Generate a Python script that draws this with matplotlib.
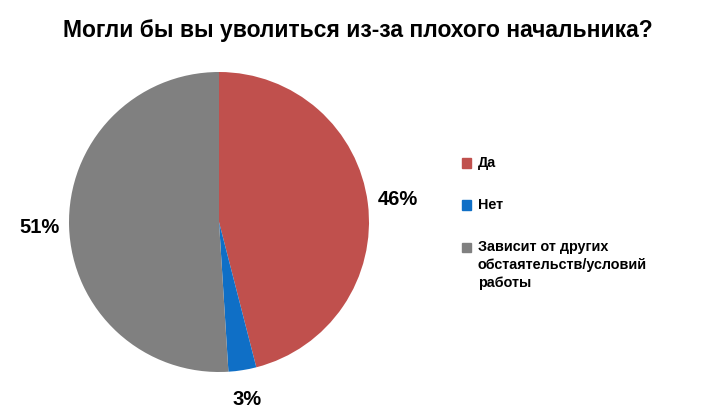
import matplotlib
matplotlib.use('Agg')
import matplotlib.pyplot as plt
from matplotlib.patches import Rectangle

plt.rcParams['font.family'] = ['Liberation Sans', 'DejaVu Sans']

title = "Могли бы вы уволиться из-за плохого начальника?"
labels = ["Да", "Нет", "Зависит от других\nобстаятельств/условий\nработы"]
values = [46, 3, 51]
colors = ["#C0504D", "#0F6FC6", "#808080"]

W, H = 705, 409
fig = plt.figure(figsize=(W / 100, H / 100), dpi=100)

# pie: centre (219, 222) px, radius 150 px
ax = fig.add_axes([(219 - 150) / W, (H - 372) / H, 300 / W, 300 / H])
ax.pie(values, colors=colors, startangle=90, counterclock=False,
       autopct='%1.0f%%', pctdistance=1.2, radius=1,
       textprops=dict(fontsize=14.5, fontweight='bold', color='black'),
       wedgeprops=dict(linewidth=0))
ax.set_xlim(-1, 1); ax.set_ylim(-1, 1)
ax.set_aspect('auto')
ax.axis('off')

fig.text(358 / W, 1 - 30 / H, title, ha='center', va='center',
         fontsize=16.5, fontweight='bold')

# legend drawn by hand so the marker sits on the first line
ys = [163, 205, 247]
for lab, col, y in zip(labels, colors, ys):
    fig.patches.append(Rectangle((462 / W, 1 - (y + 4.5) / H), 9 / W, 9 / H,
                                 transform=fig.transFigure, color=col))
    fig.text(478 / W, 1 - (y - 7) / H, lab, ha='left', va='top',
             fontsize=10.4, fontweight='bold', linespacing=1.38)

fig.savefig("out.png", dpi=100)
